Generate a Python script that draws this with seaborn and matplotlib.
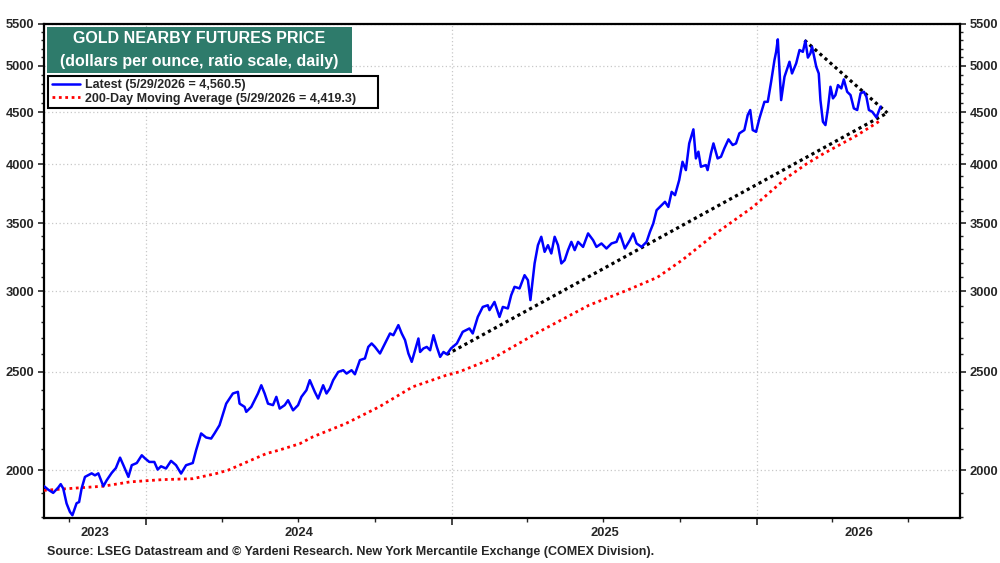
import matplotlib
matplotlib.use("Agg")
import matplotlib.pyplot as plt
import matplotlib.dates as mdates
import matplotlib.ticker as mticker
from matplotlib.patches import Rectangle
import seaborn as sns
import pandas as pd
import numpy as np

# ---------------- data ----------------
blue_dates = [
    "2023-09-01", "2023-09-06", "2023-09-12", "2023-09-18", "2023-09-21", "2023-09-24", "2023-09-28",
    "2023-10-02", "2023-10-05", "2023-10-10", "2023-10-13", "2023-10-16", "2023-10-20", "2023-10-28",
    "2023-11-01", "2023-11-05", "2023-11-11", "2023-11-15", "2023-11-21", "2023-11-26",
    "2023-12-01", "2023-12-05", "2023-12-11", "2023-12-15", "2023-12-21", "2023-12-27", "2023-12-31",
    "2024-01-05", "2024-01-11", "2024-01-15", "2024-01-19", "2024-01-25", "2024-01-31",
    "2024-02-06", "2024-02-12", "2024-02-18", "2024-02-26",
    "2024-03-01", "2024-03-07", "2024-03-13", "2024-03-19", "2024-03-23", "2024-03-29",
    "2024-04-06", "2024-04-14", "2024-04-20", "2024-04-22", "2024-04-28", "2024-04-30",
    "2024-05-06", "2024-05-10", "2024-05-14", "2024-05-18", "2024-05-22", "2024-05-26",
    "2024-06-01", "2024-06-05", "2024-06-09", "2024-06-15", "2024-06-19", "2024-06-25",
    "2024-07-01", "2024-07-05", "2024-07-11", "2024-07-15", "2024-07-21", "2024-07-25", "2024-07-31",
    "2024-08-04", "2024-08-08", "2024-08-12", "2024-08-18", "2024-08-24", "2024-08-28",
    "2024-09-03", "2024-09-07", "2024-09-13", "2024-09-19", "2024-09-23", "2024-09-27",
    "2024-10-01", "2024-10-07", "2024-10-13", "2024-10-19", "2024-10-23", "2024-10-29",
    "2024-11-02", "2024-11-06", "2024-11-10", "2024-11-14", "2024-11-18", "2024-11-22", "2024-11-24", "2024-11-28",
    "2024-12-02", "2024-12-06", "2024-12-10", "2024-12-14", "2024-12-18", "2024-12-22", "2024-12-26", "2024-12-31",
    "2025-01-07", "2025-01-14", "2025-01-22", "2025-01-26",
    "2025-02-01", "2025-02-07", "2025-02-13", "2025-02-15", "2025-02-21", "2025-02-27",
    "2025-03-03", "2025-03-09", "2025-03-13", "2025-03-17", "2025-03-23", "2025-03-29",
    "2025-04-02", "2025-04-05", "2025-04-10", "2025-04-14", "2025-04-18", "2025-04-22", "2025-04-26", "2025-04-30",
    "2025-05-04", "2025-05-08", "2025-05-12", "2025-05-16", "2025-05-20", "2025-05-24", "2025-05-28",
    "2025-06-01", "2025-06-07", "2025-06-13", "2025-06-19", "2025-06-23", "2025-06-29",
    "2025-07-05", "2025-07-11", "2025-07-17", "2025-07-21", "2025-07-27",
    "2025-08-02", "2025-08-06", "2025-08-10", "2025-08-16", "2025-08-22", "2025-08-26", "2025-08-30",
    "2025-09-03", "2025-09-07", "2025-09-13", "2025-09-17", "2025-09-21", "2025-09-25", "2025-09-30",
    "2025-10-04", "2025-10-08", "2025-10-12", "2025-10-17", "2025-10-20", "2025-10-23", "2025-10-26",
    "2025-11-01", "2025-11-03", "2025-11-07", "2025-11-10", "2025-11-15", "2025-11-19", "2025-11-23", "2025-11-28",
    "2025-12-03", "2025-12-07", "2025-12-11", "2025-12-17", "2025-12-21", "2025-12-24", "2025-12-27", "2025-12-31",
    "2026-01-04", "2026-01-10", "2026-01-14", "2026-01-18", "2026-01-22", "2026-01-24", "2026-01-26", "2026-01-30",
    "2026-02-03", "2026-02-07", "2026-02-09", "2026-02-12", "2026-02-17", "2026-02-21", "2026-02-25", "2026-02-28",
    "2026-03-03", "2026-03-06", "2026-03-08", "2026-03-13", "2026-03-16", "2026-03-18", "2026-03-21", "2026-03-24",
    "2026-03-27", "2026-03-30",
    "2026-04-02", "2026-04-05", "2026-04-08", "2026-04-12", "2026-04-15", "2026-04-19", "2026-04-23", "2026-04-27",
    "2026-05-01", "2026-05-05", "2026-05-09", "2026-05-12", "2026-05-15", "2026-05-19", "2026-05-24", "2026-05-29",
]
blue_values = [
    1929, 1914, 1900, 1923, 1938, 1919, 1855,
    1820, 1806, 1856, 1861, 1919, 1970, 1986,
    1977, 1986, 1929, 1955, 1988, 2010,
    2058, 2023, 1970, 2023, 2033, 2069, 2054,
    2038, 2038, 2003, 2018, 2008, 2043,
    2023, 1985, 2023, 2033,
    2093, 2174, 2154, 2149, 2174, 2215,
    2326, 2380, 2389, 2326, 2309, 2283,
    2309, 2344, 2380, 2425, 2380, 2326,
    2318, 2362, 2300, 2318, 2344, 2291,
    2318, 2362, 2398, 2453, 2389, 2353, 2425,
    2380, 2407, 2453, 2499, 2509, 2490,
    2509, 2486, 2567, 2577, 2645, 2666,
    2645, 2606, 2666, 2727, 2716, 2779,
    2727, 2686, 2606, 2557, 2625, 2696, 2615, 2636,
    2645, 2625, 2716, 2645, 2586, 2615, 2601, 2636,
    2666, 2737, 2758, 2727,
    2831, 2896, 2907, 2875, 2929, 2831,
    2896, 2886, 2974, 3031, 3020, 3112,
    3077, 2941, 3196, 3331, 3395, 3281, 3331, 3269,
    3395, 3331, 3196, 3220, 3294, 3356, 3294,
    3356, 3318, 3421, 3369, 3318, 3344,
    3306, 3344, 3356, 3421, 3306,
    3369, 3421, 3344, 3318, 3356, 3433, 3499,
    3606, 3633, 3675, 3633, 3759, 3731, 3860,
    4024, 3949, 4195, 4331, 4055, 4117, 3979,
    3994, 3949, 4102, 4195, 4055, 4070, 4148, 4234,
    4180, 4195, 4292, 4324, 4474, 4525, 4324, 4307,
    4440, 4610, 4610, 4824, 5067, 5163, 5311, 4628,
    4879, 4991, 5048, 4916, 5030, 5184, 5163, 5294,
    5096, 5145, 5223, 4991, 4916, 4628, 4406, 4373,
    4542, 4770,
    4646, 4681, 4788, 4752, 4850, 4716, 4681, 4542,
    4525, 4699, 4716, 4663, 4525, 4507, 4450, 4560.5,
]

ma_dates = [
    "2023-09-01", "2023-10-14", "2023-11-11", "2023-12-13", "2024-01-21", "2024-02-26",
    "2024-03-25", "2024-04-08", "2024-05-24", "2024-06-08", "2024-07-03", "2024-07-19",
    "2024-08-27", "2024-10-06", "2024-11-15", "2024-12-25", "2025-01-10", "2025-02-19",
    "2025-04-16", "2025-06-14", "2025-07-29", "2025-09-04", "2025-10-04", "2025-11-13",
    "2025-12-27", "2026-02-05", "2026-03-01", "2026-03-21", "2026-04-30", "2026-05-29",
]
ma_values = [
    1911, 1922, 1929, 1948, 1958, 1962,
    1985, 2000, 2077, 2093, 2124, 2158,
    2223, 2309, 2416, 2480, 2500, 2577,
    2739, 2907, 3006, 3097, 3222, 3422,
    3631, 3878, 4003, 4096, 4269, 4419.3,
]

# trend lines (annotation)
lower_trend_dates = ["2024-12-26", "2026-06-06"]
lower_trend_values = [2600, 4495]
upper_trend_dates = ["2026-02-27", "2026-06-06"]
upper_trend_values = [5300, 4495]

y_ticks = [2000, 2500, 3000, 3500, 4000, 4500, 5000, 5500]
year_labels = [2023, 2024, 2025, 2026]
x_start, x_end = "2023-09-01", "2026-09-01"
y_bottom, y_top = 1795, 5500

title_line1 = "GOLD NEARBY FUTURES PRICE"
title_line2 = "(dollars per ounce, ratio scale, daily)"
label_latest = "Latest (5/29/2026 = 4,560.5)"
label_ma = "200-Day Moving Average (5/29/2026 = 4,419.3)"
source_text = ("Source: LSEG Datastream and \u00a9 Yardeni Research. "
               "New York Mercantile Exchange (COMEX Division).")

# ---------------- style ----------------
sns.set_style("ticks")
plt.rcParams["font.family"] = ["Liberation Sans", "DejaVu Sans"]
plt.rcParams["font.weight"] = "bold"

fig = plt.figure(figsize=(10, 5.63), dpi=100)
ax = fig.add_axes([0.044, 0.080, 0.916, 0.8775])

df_blue = pd.DataFrame({"date": pd.to_datetime(blue_dates), "value": blue_values})
df_ma = pd.DataFrame({"date": pd.to_datetime(ma_dates), "value": ma_values})
df_lo = pd.DataFrame({"date": pd.to_datetime(lower_trend_dates), "value": lower_trend_values})
df_up = pd.DataFrame({"date": pd.to_datetime(upper_trend_dates), "value": upper_trend_values})

sns.lineplot(data=df_ma, x="date", y="value", ax=ax, color="#ff0000",
             linewidth=2.0, linestyle=(0, (1, 1.3)), label=label_ma, zorder=3)
sns.lineplot(data=df_lo, x="date", y="value", ax=ax, color="black",
             linewidth=2.3, linestyle=(0, (1, 1.1)), zorder=4, legend=False)
sns.lineplot(data=df_up, x="date", y="value", ax=ax, color="black",
             linewidth=2.3, linestyle=(0, (1, 1.1)), zorder=4, legend=False)
sns.lineplot(data=df_blue, x="date", y="value", ax=ax, color="#0000ff",
             linewidth=1.8, label=label_latest, zorder=5)

ax.set_yscale("log")
ax.set_ylim(y_bottom, y_top)
ax.set_xlim(pd.Timestamp(x_start), pd.Timestamp(x_end))

ax.yaxis.set_major_locator(mticker.FixedLocator(y_ticks))
minor_y = [v for v in range(1800, 5500, 100) if v not in y_ticks]
ax.yaxis.set_minor_locator(mticker.FixedLocator(minor_y))
ax.yaxis.set_major_formatter(mticker.FuncFormatter(lambda v, p: f"{int(round(v))}"))
ax.yaxis.set_minor_formatter(mticker.NullFormatter())

ax.xaxis.set_major_locator(mdates.YearLocator())
ax.xaxis.set_minor_locator(mdates.MonthLocator(bymonth=[4, 7, 10]))
ax.xaxis.set_major_formatter(mticker.NullFormatter())
ax.xaxis.set_minor_formatter(mticker.NullFormatter())

ax.tick_params(axis="y", which="both", direction="out", left=True, right=True,
               labelleft=True, labelright=True, labelsize=9.3, width=1.2, pad=3)
ax.tick_params(axis="y", which="major", length=4)
ax.tick_params(axis="y", which="minor", length=2.5, width=1.0)
ax.tick_params(axis="x", which="major", direction="out", length=5, width=1.2)
ax.tick_params(axis="x", which="minor", direction="out", length=3, width=1.0)
for lab in ax.get_yticklabels():
    lab.set_fontweight("bold")

ax.set_xlabel("")
ax.set_ylabel("")

for sp in ax.spines.values():
    sp.set_visible(True)
    sp.set_linewidth(1.6)
    sp.set_color("black")

ax.grid(True, which="major", axis="both", color="#c8c8c8", linestyle=(0, (1, 2)), linewidth=0.9)
ax.set_axisbelow(True)

# year labels centered in visible part of each year
xmin_num, xmax_num = ax.get_xlim()
for yr in year_labels:
    a = max(mdates.date2num(pd.Timestamp(f"{yr}-01-01")), xmin_num)
    b = min(mdates.date2num(pd.Timestamp(f"{yr + 1}-01-01")), xmax_num)
    ax.text((a + b) / 2, -0.030, str(yr), transform=ax.get_xaxis_transform(),
            ha="center", va="center", fontsize=9.3, fontweight="bold")

# title box
ax.add_patch(Rectangle((0.0033, 0.9008), 0.3330, 0.0931, transform=ax.transAxes,
                       facecolor="#2e7b6b", edgecolor="none", zorder=6))
ax.text(0.169, 0.9695, title_line1, transform=ax.transAxes, ha="center", va="center",
        color="white", fontsize=11.5, fontweight="bold", zorder=7)
ax.text(0.169, 0.923, title_line2, transform=ax.transAxes, ha="center", va="center",
        color="white", fontsize=11.5, fontweight="bold", zorder=7)

# legend
handles = [ax.lines[3], ax.lines[0]]
leg = ax.legend(handles=handles, labels=[label_latest, label_ma],
                loc="upper left", bbox_to_anchor=(0.0044, 0.8280, 0.3602, 0.0667),
                mode="expand", borderaxespad=0,
                frameon=True, fancybox=False, edgecolor="black", framealpha=1,
                prop={"weight": "bold", "size": 9}, handlelength=2.3,
                handletextpad=0.35, labelspacing=0.1, borderpad=0.28)
leg.get_frame().set_linewidth(1.5)
leg.set_zorder(7)

fig.text(0.047, 0.0195, source_text, ha="left", va="center", fontsize=9, fontweight="bold")

fig.savefig("out.png", dpi=100)
